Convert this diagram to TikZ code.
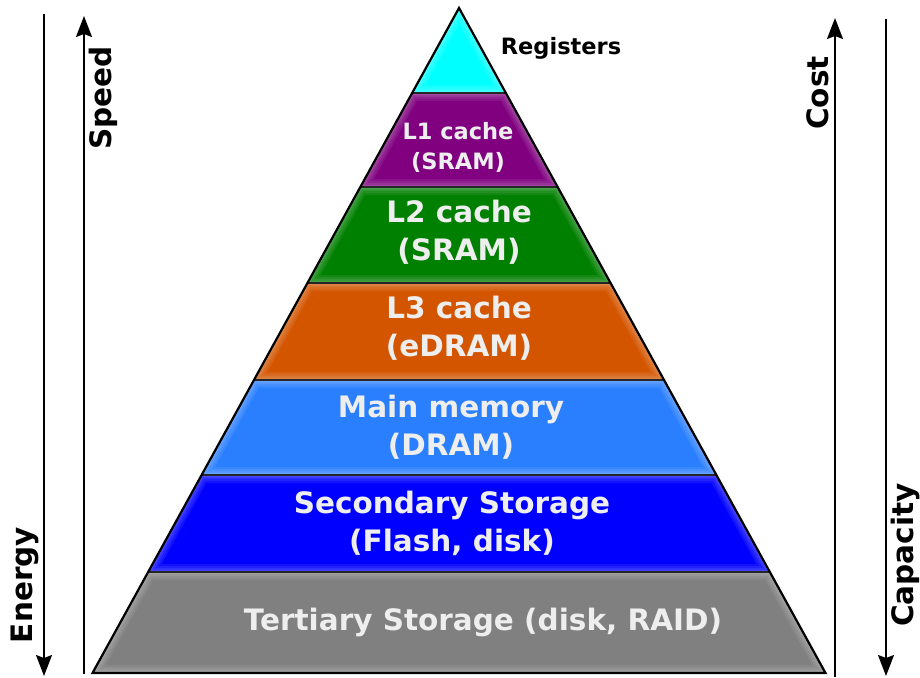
\documentclass[tikz,border=0pt]{standalone}
\usepackage{fontspec}
\setmainfont{DejaVu Sans}
\usetikzlibrary{arrows.meta}
\definecolor{regc}{HTML}{00FFFF}
\definecolor{lonec}{HTML}{800080}
\definecolor{ltwoc}{HTML}{008000}
\definecolor{lthreec}{HTML}{D45500}
\definecolor{mainc}{HTML}{2A7FFF}
\definecolor{secc}{HTML}{0000FF}
\definecolor{terc}{HTML}{808080}
\definecolor{labc}{HTML}{EEEEEE}
\newcommand\pyrlayer[2]{%
  \begin{scope}
    \clip #1;
    \fill[#2] #1;
    \foreach \w in {16,12,8,5,3}{\draw[white,opacity=0.07,line width=\w pt,line join=round] #1;}
  \end{scope}}
\begin{document}
\begin{tikzpicture}[x=1pt,y=-1pt,
  lab/.style={font=\bfseries\fontsize{29.5}{38}\selectfont,text=labc,align=center,inner sep=0pt},
  smalllab/.style={font=\bfseries\fontsize{22.5}{30}\selectfont,text=labc,align=center,inner sep=0pt},
  sidelab/.style={font=\bfseries\fontsize{29.5}{32}\selectfont,rotate=90,inner sep=0pt},
  axis/.style={line width=1.5pt,-{Stealth[length=21pt,width=16pt,inset=3pt]}},
  sep/.style={line width=1.6pt,black!85}]
\useasboundingbox (0,0) rectangle (920,677);
% pyramid points
\coordinate (apex) at (459,8);
\coordinate (a1) at (412.2,93);  \coordinate (b1) at (505.8,93);
\coordinate (a2) at (360.4,187); \coordinate (b2) at (557.6,187);
\coordinate (a3) at (307.4,283); \coordinate (b3) at (610.6,283);
\coordinate (a4) at (254.0,380); \coordinate (b4) at (664.0,380);
\coordinate (a5) at (201.6,475); \coordinate (b5) at (716.4,475);
\coordinate (a6) at (148.2,572); \coordinate (b6) at (769.8,572);
\coordinate (a7) at (92.5,673);  \coordinate (b7) at (825.5,673);
% layers
\pyrlayer{(apex)--(b1)--(a1)--cycle}{regc}
\pyrlayer{(a1)--(b1)--(b2)--(a2)--cycle}{lonec}
\pyrlayer{(a2)--(b2)--(b3)--(a3)--cycle}{ltwoc}
\pyrlayer{(a3)--(b3)--(b4)--(a4)--cycle}{lthreec}
\pyrlayer{(a4)--(b4)--(b5)--(a5)--cycle}{mainc}
\pyrlayer{(a5)--(b5)--(b6)--(a6)--cycle}{secc}
\pyrlayer{(a6)--(b6)--(b7)--(a7)--cycle}{terc}
% separators
\draw[sep] (a1)--(b1) (a2)--(b2) (a3)--(b3) (a4)--(b4) (a5)--(b5) (a6)--(b6);
% outline
\draw[line width=2.2pt,line join=miter] (apex)--(b7)--(a7)--cycle;
% labels
\node[font=\bfseries\fontsize{22.5}{26}\selectfont,inner sep=0pt] (reg) at (561,48) {Registers};
\node[smalllab] (l1) at (458,147) {L1 cache\\(SRAM)};
\node[lab] (l2) at (459,232) {L2 cache\\(SRAM)};
\node[lab] (l3) at (459,328) {L3 cache\\(eDRAM)};
\node[lab] (mm) at (451,427) {Main memory\\(DRAM)};
\node[lab] (ss) at (452,523) {Secondary Storage\\(Flash, disk)};
\node[lab] (ts) at (483,622) {Tertiary Storage (disk, RAID)};
% side axes
\coordinate (en0) at (44,14);  \coordinate (en1) at (44,676);
\coordinate (sp0) at (84,674); \coordinate (sp1) at (84,16);
\coordinate (co0) at (835,677); \coordinate (co1) at (835,18);
\coordinate (ca0) at (886,19); \coordinate (ca1) at (886,676);
\draw[axis] (en0) -- (en1);
\draw[axis] (sp0) -- (sp1);
\draw[axis] (co0) -- (co1);
\draw[axis] (ca0) -- (ca1);
\node[sidelab] (speed) at (103,98) {Speed};
\node[sidelab] (energy) at (25,585) {Energy};
\node[sidelab] (cost) at (818,93) {Cost};
\node[sidelab] (capacity) at (905,555) {Capacity};
\end{tikzpicture}
\end{document}
